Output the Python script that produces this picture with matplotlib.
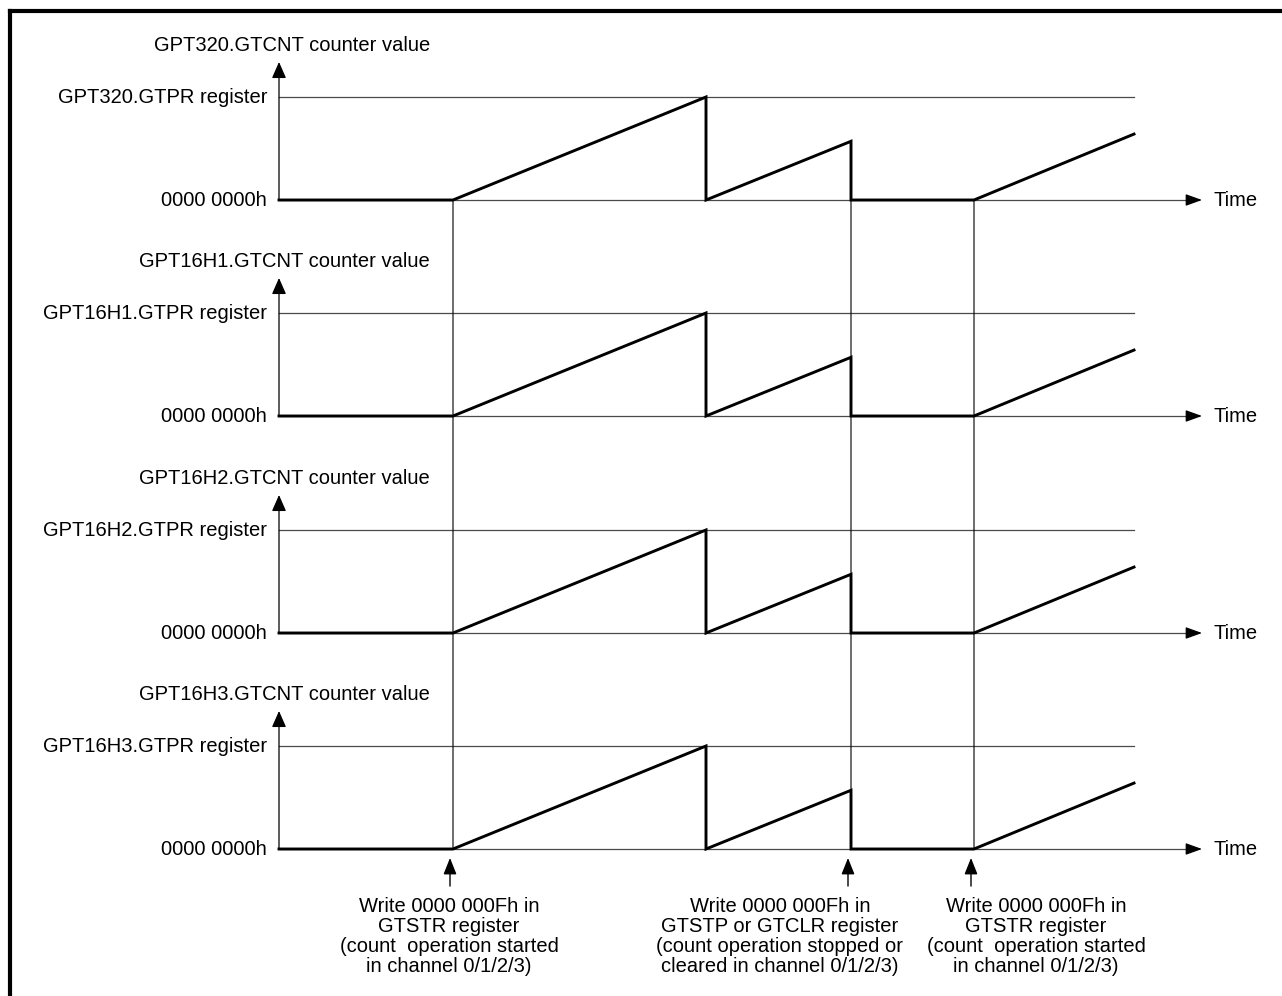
import matplotlib
matplotlib.use("Agg")
import matplotlib.pyplot as plt
from matplotlib.lines import Line2D
from matplotlib.patches import ConnectionPatch

plt.rcParams['font.family'] = ['Liberation Sans', 'DejaVu Sans']

# channels shown, top to bottom
channels = ["GPT320", "GPT16H1", "GPT16H2", "GPT16H3"]

# counter waveform (time in arbitrary units, value relative to GTPR = 1)
count_t = [0, 174, 427, 427, 572, 572, 695, 855]
count_v = [0, 0, 1.0, 0, 0.57, 0, 0, 0.64]
period_end = 855
time_axis_end = 923

# register writes marked below the chart
event_t = [174, 572, 695]
event_text = [
    "Write 0000 000Fh in\nGTSTR register\n(count  operation started\nin channel 0/1/2/3)",
    "Write 0000 000Fh in\nGTSTP or GTCLR register\n(count operation stopped or\ncleared in channel 0/1/2/3)",
    "Write 0000 000Fh in\nGTSTR register\n(count  operation started\nin channel 0/1/2/3)",
]

W, H = 1282, 996
FS = 14.5
THIN = '#4a4a4a'

fig = plt.figure(figsize=(W / 100, H / 100), dpi=100)

# outer frame (top and left edges only are visible)
fig.add_artist(Line2D([10 / W, 10 / W], [0, 1 - 11 / H], color='black', lw=3))
fig.add_artist(Line2D([10 / W, 1], [1 - 11 / H, 1 - 11 / H], color='black', lw=3))

x0 = 279
base_px = [200, 416, 633, 849]
unit_px = 103
axes = []
for name, bp in zip(channels, base_px):
    ax = fig.add_axes([x0 / W, 1 - bp / H, (W - x0) / W, unit_px / H])
    ax.set_xlim(0, W - x0)
    ax.set_ylim(0, 1)
    ax.axis('off')
    axes.append(ax)

    # GTPR level
    ax.plot([0, period_end], [1, 1], color=THIN, lw=0.9, clip_on=False)
    # time axis with arrow
    ax.plot([0, time_axis_end - 8], [0, 0], color=THIN, lw=0.9, clip_on=False)
    ax.annotate('', xy=(time_axis_end, 0), xytext=(time_axis_end - 14, 0),
                arrowprops=dict(arrowstyle='-|>,head_length=0.5,head_width=0.18',
                                mutation_scale=20, color='black', lw=0.9,
                                shrinkA=0, shrinkB=0),
                annotation_clip=False)
    # vertical axis with arrow
    ax.annotate('', xy=(0, 1.34), xytext=(0, 0),
                arrowprops=dict(arrowstyle='-|>,head_length=0.5,head_width=0.22',
                                mutation_scale=20, color='black', lw=0.9,
                                shrinkA=0, shrinkB=0),
                annotation_clip=False)
    # counter value
    ax.plot(count_t, count_v, color='black', lw=2.1, clip_on=False,
            solid_joinstyle='miter', zorder=3)

    ax.text(151, 1.5, f"{name}.GTCNT counter value", ha='right', va='center',
            fontsize=FS, clip_on=False)
    ax.text(-12, 1, f"{name}.GTPR register", ha='right', va='center',
            fontsize=FS, clip_on=False)
    ax.text(-12, 0, "0000 0000h", ha='right', va='center', fontsize=FS, clip_on=False)
    ax.text(934, 0, "Time", ha='left', va='center', fontsize=FS, clip_on=False)

# guide lines through all channels
for t in event_t:
    con = ConnectionPatch(xyA=(t, 0), coordsA=axes[0].transData,
                          xyB=(t, 0), coordsB=axes[-1].transData,
                          color='black', lw=0.8, zorder=1)
    fig.add_artist(con)

# note positions (time units) under each arrow
note_x = [170, 501, 757]

ax = axes[-1]
for t, nx, txt in zip(event_t, note_x, event_text):
    ax.annotate('', xy=(t - 3, -0.087), xytext=(t - 3, -0.36),
                arrowprops=dict(arrowstyle='-|>,head_length=0.5,head_width=0.2',
                                mutation_scale=20, color='black', lw=1.0,
                                shrinkA=0, shrinkB=0),
                annotation_clip=False)
    ax.text(nx, -0.47, txt, ha='center', va='top', multialignment='center',
            fontsize=FS, linespacing=1.05, clip_on=False)

fig.savefig("out.png", dpi=100)
